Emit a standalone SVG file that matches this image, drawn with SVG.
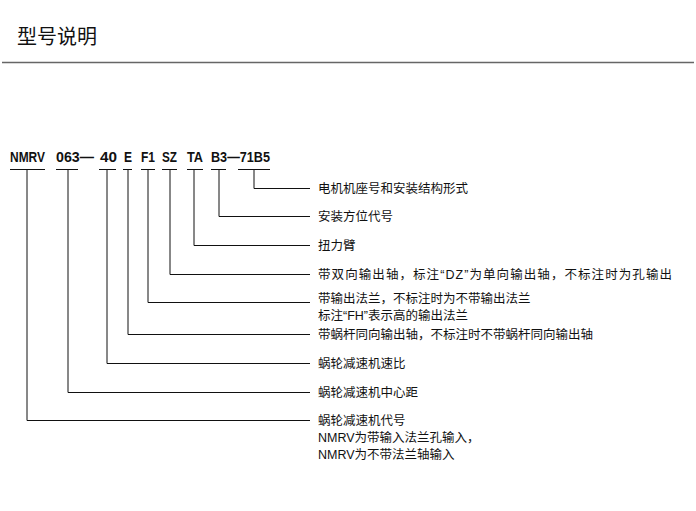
<svg xmlns="http://www.w3.org/2000/svg" width="696" height="511" viewBox="0 0 696 511">
<style>
.t{font-family:"Liberation Sans","Noto Sans CJK SC",sans-serif;font-size:12.5px;fill:#111}
.c{font-family:"Liberation Sans",sans-serif;font-size:15px;fill:#111;font-weight:bold}
.l{stroke:#111;stroke-width:1;fill:none}
</style>
<rect width="696" height="511" fill="#fff"/>
<g id="title"><text x="17" y="44" style="font-family:'Noto Sans CJK SC',sans-serif;font-size:20px;fill:#111">型号说明</text>
<line x1="2" y1="62.5" x2="694" y2="62.5" stroke="#666" stroke-width="1.5"/></g>
<g id="code">
<text class="c" x="10" y="162" textLength="35" lengthAdjust="spacingAndGlyphs">NMRV</text>
<text class="c" x="56" y="162" textLength="38" lengthAdjust="spacingAndGlyphs">063—</text>
<text class="c" x="100" y="162" textLength="17" lengthAdjust="spacingAndGlyphs">40</text>
<text class="c" x="124" y="162" textLength="8" lengthAdjust="spacingAndGlyphs">E</text>
<text class="c" x="141" y="162" textLength="14" lengthAdjust="spacingAndGlyphs">F1</text>
<text class="c" x="162" y="162" textLength="15" lengthAdjust="spacingAndGlyphs">SZ</text>
<text class="c" x="187" y="162" textLength="16" lengthAdjust="spacingAndGlyphs">TA</text>
<text class="c" x="211" y="162" textLength="59" lengthAdjust="spacingAndGlyphs">B3—71B5</text>
<path class="l" d="M10 169.5H45M56 169.5H78M99 169.5H116M123 169.5H132M141 169.5H155M162 169.5H177M187 169.5H203M211 169.5H226M238 169.5H270"/></g>
<g id="connectors">
<path class="l" d="M254 170V188.5H310"/>
<path class="l" d="M219 170V216.5H310"/>
<path class="l" d="M194 170V245.5H310"/>
<path class="l" d="M170 170V274.5H310"/>
<path class="l" d="M148 170V302.5H310"/>
<path class="l" d="M128 170V334.5H310"/>
<path class="l" d="M107 170V363.5H310"/>
<path class="l" d="M68 170V392.5H310"/>
<path class="l" d="M27 170V420.5H310"/>
</g>
<g id="labels">
<text class="t" x="318" y="193">电机机座号和安装结构形式</text>
<text class="t" x="318" y="221">安装方位代号</text>
<text class="t" x="318" y="250">扭力臂</text>
<text class="t" x="318" y="279" textLength="354">带双向输出轴，标注“DZ”为单向输出轴，不标注时为孔输出</text>
<text class="t" x="318" y="303">带输出法兰，不标注时为不带输出法兰</text>
<text class="t" x="318" y="320">标注“FH”表示高的输出法兰</text>
<text class="t" x="318" y="339">带蜗杆同向输出轴，不标注时不带蜗杆同向输出轴</text>
<text class="t" x="318" y="368">蜗轮减速机速比</text>
<text class="t" x="318" y="397">蜗轮减速机中心距</text>
<text class="t" x="318" y="425">蜗轮减速机代号</text>
<text class="t" x="318" y="442">NMRV为带输入法兰孔输入，</text>
<text class="t" x="318" y="459">NMRV为不带法兰轴输入</text>
</g>
</svg>
